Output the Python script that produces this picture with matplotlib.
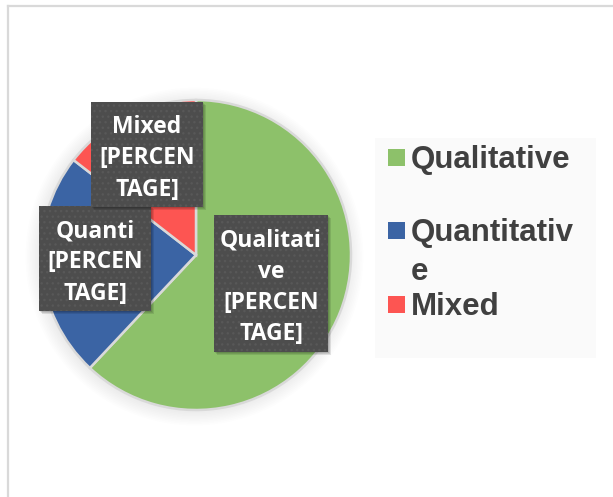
import matplotlib
matplotlib.use('Agg')
import matplotlib.pyplot as plt
from matplotlib.patches import Rectangle, Circle

# data
categories = ['Qualitative', 'Quantitative', 'Mixed']
shares = [62, 23.5, 14.5]
colors = ['#8dc16a', '#3b64a4', '#fd5552']
legend_labels = ['Qualitative', 'Quantitativ\ne', 'Mixed']
data_labels = ['Qualitati\nve\n[PERCEN\nTAGE]', 'Quanti\n[PERCEN\nTAGE]', 'Mixed\n[PERCEN\nTAGE]']

W, H = 613, 497
fig = plt.figure(figsize=(W / 100, H / 100), dpi=100)

# pie, centre and radius in pixels
cx, cy, r = 196, 255, 155
box = 175
pie_ax = fig.add_axes([(cx - box) / W, (H - cy - box) / H, 2 * box / W, 2 * box / H])
lim = box / r
# faint soft shadow under the pie
for i in range(10):
    pie_ax.add_patch(Circle((-0.01, -0.01), 1 + 0.01 * i, color='black', alpha=0.008, lw=0, zorder=0))
pie_ax.pie(shares, colors=colors, startangle=90, counterclock=False,
           wedgeprops=dict(edgecolor='#d9d9d9', linewidth=1.8, zorder=2))
pie_ax.set_xlim(-lim, lim)
pie_ax.set_ylim(-lim, lim)
pie_ax.axis('off')

# overlay in pixel coordinates
ov = fig.add_axes([0, 0, 1, 1])
ov.set_xlim(0, W)
ov.set_ylim(H, 0)
ov.axis('off')
ov.patch.set_alpha(0)

# chart frame (only left / top visible)
ov.plot([8, 8], [6, H], color='#d9d9d9', lw=1.6)
ov.plot([8, W], [6, 6], color='#d9d9d9', lw=1.6)

# data label boxes
label_boxes = [(214, 215, 114, 137), (39, 206, 112, 105), (91, 102, 112, 105)]
for txt, (x, y, w, h) in zip(data_labels, label_boxes):
    for k in range(3):
        ov.add_patch(Rectangle((x + 1 + k, y + 1 + k), w, h, color='black', alpha=0.1, lw=0))
    ov.add_patch(Rectangle((x, y), w, h, facecolor='#4d4d4d', edgecolor='#585858',
                           hatch='...', lw=0))
    ov.text(x + w / 2, y + h / 2 + 4, txt, ha='center', va='center', color='white',
            fontsize=16.5, fontweight='bold', family='Open Sans', linespacing=1.4)

# legend
ov.add_patch(Rectangle((375, 138), 221, 220, color='#fafafa', lw=0))
item_y = [160, 233, 307]
for lab, col, y in zip(legend_labels, colors, item_y):
    ov.add_patch(Rectangle((388, y - 11), 17, 17, color=col, lw=0))
    for k, line in enumerate(lab.split('\n')):
        ov.text(411, y + k * 39, line, ha='left', va='center', color='#404040',
                fontsize=22.5, fontweight='bold', family='Liberation Sans')

fig.savefig('out.png', dpi=100)
